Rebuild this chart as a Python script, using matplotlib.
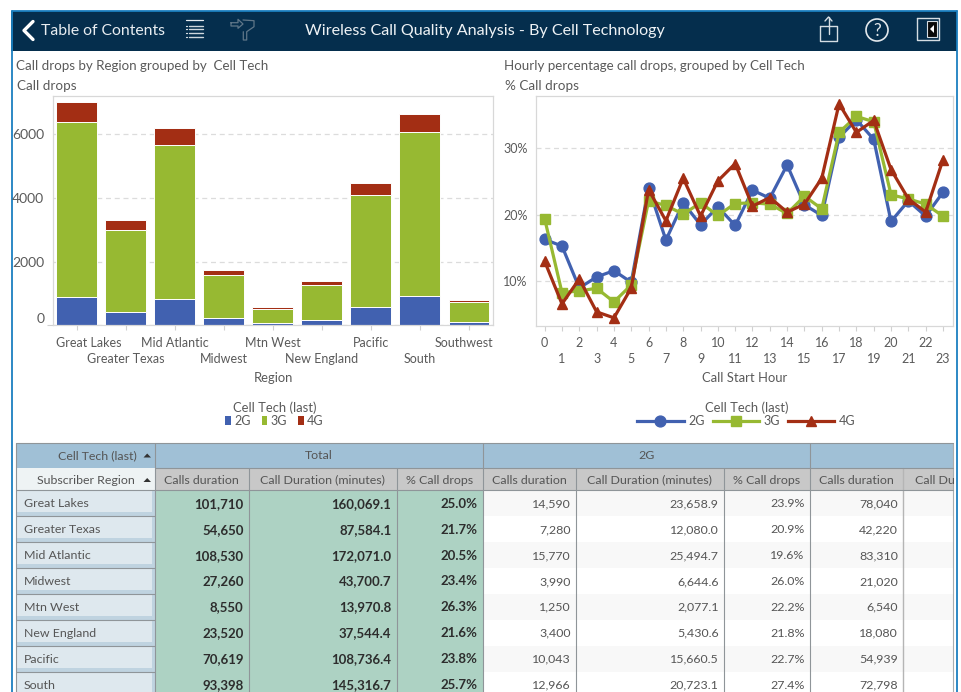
import matplotlib
matplotlib.use("Agg")
import matplotlib.pyplot as plt
from matplotlib.patches import Rectangle, Circle, Polygon
from matplotlib.lines import Line2D
from matplotlib.transforms import ScaledTranslation

plt.rcParams['font.family'] = ['Lato', 'DejaVu Sans']

W, H = 961, 692
GREY = '#5a5a5a'
C2, C3, C4 = '#4161b0', '#97b932', '#a32e14'
TECH = ['2G', '3G', '4G']

regions = ['Great Lakes', 'Greater Texas', 'Mid Atlantic', 'Midwest', 'Mtn West',
           'New England', 'Pacific', 'South', 'Southwest']
drops_2g = [900, 408, 817, 240, 60, 176, 566, 931, 90]
drops_3g = [5484, 2598, 4843, 1332, 462, 1101, 3542, 5159, 633]
drops_4g = [626, 315, 544, 157, 63, 116, 376, 545, 63]

hours = list(range(24))
pct_2g = [16.3, 15.3, 9.0, 10.65, 11.6, 9.85, 24.1, 16.2, 21.8, 18.5, 21.2, 18.4,
          23.7, 22.5, 27.5, 21.5, 19.9, 31.65, 34.3, 31.35, 19.0, 22.1, 19.8, 23.4]
pct_3g = [19.4, 8.3, 8.55, 8.95, 6.9, 9.45, 22.1, 21.4, 20.1, 21.8, 19.9, 21.7,
          21.8, 21.6, 20.2, 22.8, 20.9, 32.4, 34.8, 34.0, 23.0, 22.4, 21.6, 19.8]
pct_4g = [13.0, 6.6, 10.35, 5.4, 4.5, 9.0, 23.8, 19.1, 25.5, 19.8, 25.1, 27.7,
          21.3, 22.6, 20.4, 21.6, 25.5, 36.7, 32.4, 34.2, 26.8, 22.4, 20.4, 28.3]

table_regions = regions[:8]
total_calls = ['101,710', '54,650', '108,530', '27,260', '8,550', '23,520', '70,619', '93,398']
total_mins = ['160,069.1', '87,584.1', '172,071.0', '43,700.7', '13,970.8', '37,544.4', '108,736.4', '145,316.7']
total_pct = ['25.0%', '21.7%', '20.5%', '23.4%', '26.3%', '21.6%', '23.8%', '25.7%']
g2_calls = ['14,590', '7,280', '15,770', '3,990', '1,250', '3,400', '10,043', '12,966']
g2_mins = ['23,658.9', '12,080.0', '25,494.7', '6,644.6', '2,077.1', '5,430.6', '15,660.5', '20,723.1']
g2_pct = ['23.9%', '20.9%', '19.6%', '26.0%', '22.2%', '21.8%', '22.7%', '27.4%']
g3_calls = ['78,040', '42,220', '83,310', '21,020', '6,540', '18,080', '54,939', '72,798']
col_heads = ['Calls duration', 'Call Duration (minutes)', '% Call drops']
clipped_head = 'Call Du'

fig = plt.figure(figsize=(W / 100, H / 100), dpi=100, facecolor='white')


def axes_px(x0, y0, x1, y1, **kw):
    return fig.add_axes([x0 / W, 1 - y1 / H, (x1 - x0) / W, (y1 - y0) / H], **kw)


# ---------- page layer, in pixel coordinates ----------
bg = axes_px(0, 0, W, H)
bg.set_xlim(0, W)
bg.set_ylim(H, 0)
bg.axis('off')


def rect(x0, y0, x1, y1, fc, ec='none', lw=0, z=1):
    bg.add_patch(Rectangle((x0, y0), x1 - x0, y1 - y0, fc=fc, ec=ec, lw=lw, zorder=z))


def line(xs, ys, c='white', lw=1.0, z=3):
    bg.add_line(Line2D(xs, ys, color=c, lw=lw, zorder=z, solid_capstyle='round'))


NAVY = '#052e4d'
BORDER = '#1b7fc0'
rect(11, 11, 957, 51, NAVY)
line([11.5, 11.5], [10.5, 692], BORDER, 1.3)
line([956.7, 956.7], [10.5, 692], BORDER, 1.3)
line([11.5, 956.7], [10.5, 10.5], BORDER, 1.3)

# Toolbar glyphs
line([33, 24, 33], [21.5, 30.5, 39.5], 'white', 2.4)
bg.text(41, 31, 'Table of Contents', color='#e8edf1', fontsize=11.3, va='center')
line([186, 203], [20.3, 20.3], '#e6ebef', 0.9)
for y in (25.7, 29.3, 33.3, 37.3):
    line([186, 186.7], [y, y], '#dfe5ea', 0.9)
    line([189, 203], [y, y], '#cfd7dd', 1.0)
FILT = '#5f7688'
line([231, 238, 238, 243, 238, 238, 231, 231], [22.7, 22.7, 19.3, 24, 28.3, 26, 26, 22.7], FILT, 0.9)
line([243, 254, 254, 246.7, 246.7, 243.3, 243.3], [20, 20.7, 26.7, 31.7, 40, 40, 31.7], FILT, 0.9)
bg.text(485, 31, 'Wireless Call Quality Analysis - By Cell Technology', color='#eef2f5',
        fontsize=11.6, ha='center', va='center')
line([820, 820, 837, 837, 820], [26, 41, 41, 26, 26], '#d5dde3', 1.0)
line([828.5, 828.5], [17, 34], '#d5dde3', 1.0)
line([825, 828.5, 832], [21, 17, 21], '#d5dde3', 1.0)
bg.add_patch(Circle((877, 30), 11, fc='none', ec='#e3e8ec', lw=1.2, zorder=3))
bg.text(877, 30.5, '?', color='#e3e8ec', fontsize=12.5, ha='center', va='center', zorder=4)
line([917, 939, 939, 917, 917], [18, 18, 40, 40, 18], '#d5dde3', 1.0)
rect(927, 21, 937, 37, '#0a0a0a', '#d5dde3', 0.8, 3)
bg.add_patch(Polygon([[934, 25], [934, 33], [930, 29]], fc='white', zorder=4))

# Chart captions
bg.text(16, 65.5, 'Call drops by Region grouped by  Cell Tech', color=GREY, fontsize=9.6, va='center')
bg.text(17, 86.5, 'Call drops', color=GREY, fontsize=9.7, va='center')
bg.text(504, 65.5, 'Hourly percentage call drops, grouped by Cell Tech', color=GREY, fontsize=9.65, va='center')
bg.text(505, 86.5, '% Call drops', color=GREY, fontsize=9.7, va='center')

# ---------- table ----------
xs = [16, 155, 248.5, 396.5, 482.7, 575.5, 723.5, 809.5, 903, 953]
row_h = 25.9
y_top, y_h1, y_h2 = 442.7, 467.7, 490.4
HEAD1 = '#a0c0d6'
HEAD2 = '#c8c8c8'
LINE = '#8f9599'
TXT = '#555555'
F = 8.9
FB = 9.5

rect(xs[0], y_top, xs[-1], y_h1, HEAD1)
rect(xs[0], y_h1, xs[1], y_h2, '#eef3f4')
rect(xs[1], y_h1, xs[-1], y_h2, HEAD2)
for i, r in enumerate(table_regions):
    y0 = y_h2 + i * row_h
    y1 = y0 + row_h
    rect(xs[1], y0, xs[4], y1, '#add2c3')
    rect(xs[4], y0, xs[-1], y1, '#f8f8f8' if i % 2 == 0 else 'white')
    rect(xs[0], y0, xs[1], y1, '#bfd3e0')
    rect(xs[0] + 1, y0 + 1, xs[1] - 3, y1 - 4, '#dee8ee')
    bg.text(24, y0 + 13.4, r, color=TXT, fontsize=F, va='center', zorder=4)
    line([xs[0], xs[1]], [y1, y1], LINE, 0.8, 3)
    cols = [(xs[2], total_calls, True), (xs[3], total_mins, True), (xs[4], total_pct, True),
            (xs[5], g2_calls, False), (xs[6], g2_mins, False), (xs[7], g2_pct, False),
            (xs[8], g3_calls, False)]
    for xr, vals, bold in cols:
        bg.text(xr - 5, y0 + 13.4, vals[i], color='#2d2d2d' if bold else TXT, fontsize=FB if bold else F,
                fontweight='bold' if bold else 'normal', ha='right', va='center', zorder=4)

for x in xs[1:8]:
    line([x, x], [y_h1, H], LINE, 0.8, 3)
line([xs[8], xs[8]], [y_h1, H], '#b5b5b5', 1.0, 3)
line([xs[9], xs[9]], [y_top, H], '#a8adb0', 0.8, 3)
for x in (xs[1], xs[4], xs[7]):
    line([x, x], [y_top, y_h1], LINE, 0.8, 3)
line([xs[0], xs[0]], [y_top, H], LINE, 0.8, 3)
for y in (y_top, y_h2):
    line([xs[0], xs[-1]], [y, y], LINE, 0.8, 3)
line([xs[1], xs[-1]], [y_h1, y_h1], LINE, 0.8, 3)

bg.text(137, 455.5, 'Cell Tech (last)', color=TXT, fontsize=F, ha='right', va='center', zorder=4)
bg.text(135, 480, 'Subscriber Region', color=TXT, fontsize=F, ha='right', va='center', zorder=4)
for yc in (455.5, 480):
    bg.add_patch(Polygon([[143.5, yc + 2], [151, yc + 2], [147.2, yc - 2]], fc='#333333', zorder=4))
bg.text((xs[1] + xs[4]) / 2, 455.5, 'Total', color=TXT, fontsize=F, ha='center', va='center', zorder=4)
bg.text((xs[4] + xs[7]) / 2, 455.5, '2G', color=TXT, fontsize=F, ha='center', va='center', zorder=4)
for start in (1, 4):
    for j, h in enumerate(col_heads):
        bg.text((xs[start + j] + xs[start + j + 1]) / 2, 480, h, color=TXT, fontsize=F,
                ha='center', va='center', zorder=4)
bg.text((xs[7] + xs[8]) / 2, 480, col_heads[0], color=TXT, fontsize=F, ha='center', va='center', zorder=4)
bg.text(915, 480, clipped_head, color=TXT, fontsize=F, ha='left', va='center', zorder=4)


def style_axes(ax):
    for s in ax.spines.values():
        s.set_color('#d8d8d8')
        s.set_linewidth(0.9)
    ax.grid(axis='y', color='#dcdcdc', ls=(0, (4, 3)), lw=0.9)
    ax.set_axisbelow(True)
    ax.tick_params(colors=GREY, labelsize=9, color='#d0d0d0', width=0.8)


def stagger(ax):
    for i, tick in enumerate(ax.xaxis.get_major_ticks()):
        tick.set_pad(16.3 if i % 2 else 4.6)


def nudge(label, px):
    # first and last region labels are pulled back inside the plot frame
    label.set_transform(label.get_transform() + ScaledTranslation(px / 100, 0, fig.dpi_scale_trans))


# ---------- stacked bars ----------
ax1 = axes_px(53, 96, 493, 325.3)
positions = list(range(len(regions)))
bottom_3g = drops_2g
bottom_4g = [a + b for a, b in zip(drops_2g, drops_3g)]
barkw = dict(width=0.835, edgecolor='white', linewidth=0.7)
ax1.bar(positions, drops_2g, color=C2, **barkw)
ax1.bar(positions, drops_3g, bottom=bottom_3g, color=C3, **barkw)
ax1.bar(positions, drops_4g, bottom=bottom_4g, color=C4, **barkw)
ax1.set_xlim(-0.485, 8.49)
ax1.set_ylim(0, 7210)
ax1.set_yticks([0, 2000, 4000, 6000])
ax1.set_xticks(positions, regions)
style_axes(ax1)
stagger(ax1)
ticks1 = ax1.xaxis.get_major_ticks()
ax1.tick_params(axis='y', length=4.3, pad=2, labelsize=10)
for tick, v in zip(ax1.yaxis.get_major_ticks(), ax1.get_yticks()):
    tick.tick1line.set_visible(v == 0)
ax1.yaxis.get_major_ticks()[0].label1.set_verticalalignment('bottom')
ax1.set_xlabel('Region', color=GREY, fontsize=9.4, va='center')
ax1.xaxis.set_label_coords(0.5, -(378 - 325.3) / 229.3)
nudge(ticks1[0].label1, 11.5)
nudge(ticks1[-1].label1, -5)
handles1 = [Rectangle((0, 0), 1, 1, fc=c) for c in (C2, C3, C4)]
leg1 = fig.legend(handles1, TECH, title='Cell Tech (last)', ncol=3, frameon=False, fontsize=9,
                  title_fontsize=9.4, loc='upper center', bbox_to_anchor=(274.5 / W, 1 - 401 / H),
                  handlelength=0.45, handleheight=0.8, handletextpad=0.25, columnspacing=0.9,
                  labelspacing=0, borderpad=0, borderaxespad=0, labelcolor=GREY)
leg1.get_title().set_color(GREY)
leg1._legend_box.sep = 1

# ---------- hourly lines ----------
ax2 = axes_px(536, 96, 952.7, 325.7)
linekw = dict(lw=2.3, clip_on=False)
ax2.plot(hours, pct_2g, color=C2, marker='o', ms=7.8, **linekw)
ax2.plot(hours, pct_3g, color=C3, marker='s', ms=6.6, **linekw)
ax2.plot(hours, pct_4g, color=C4, marker='^', ms=7.6, **linekw)
ax2.set_xlim(-0.5, 23.56)
ax2.set_ylim(3.32, 37.87)
ax2.set_yticks([10, 20, 30], ['10%', '20%', '30%'])
ax2.set_xticks(hours, [str(h) for h in hours])
style_axes(ax2)
stagger(ax2)
ax2.tick_params(axis='y', length=0, pad=6)
ax2.set_xlabel('Call Start Hour', color=GREY, fontsize=9.4, va='center')
ax2.xaxis.set_label_coords(0.5, -(378 - 325.7) / 229.7)
handles2 = [Line2D([], [], color=C2, marker='o', ms=7.8, lw=2.3),
            Line2D([], [], color=C3, marker='s', ms=6.6, lw=2.3),
            Line2D([], [], color=C4, marker='^', ms=7.6, lw=2.3)]
leg2 = fig.legend(handles2, TECH, title='Cell Tech (last)', ncol=3, frameon=False, fontsize=9,
                  title_fontsize=9.4, loc='upper center', bbox_to_anchor=(746.5 / W, 1 - 401 / H),
                  handlelength=3.7, handletextpad=0.4, columnspacing=0.6,
                  labelspacing=0, borderpad=0, borderaxespad=0, labelcolor=GREY)
leg2.get_title().set_color(GREY)
leg2._legend_box.sep = 1

fig.savefig('out.png', dpi=100)
